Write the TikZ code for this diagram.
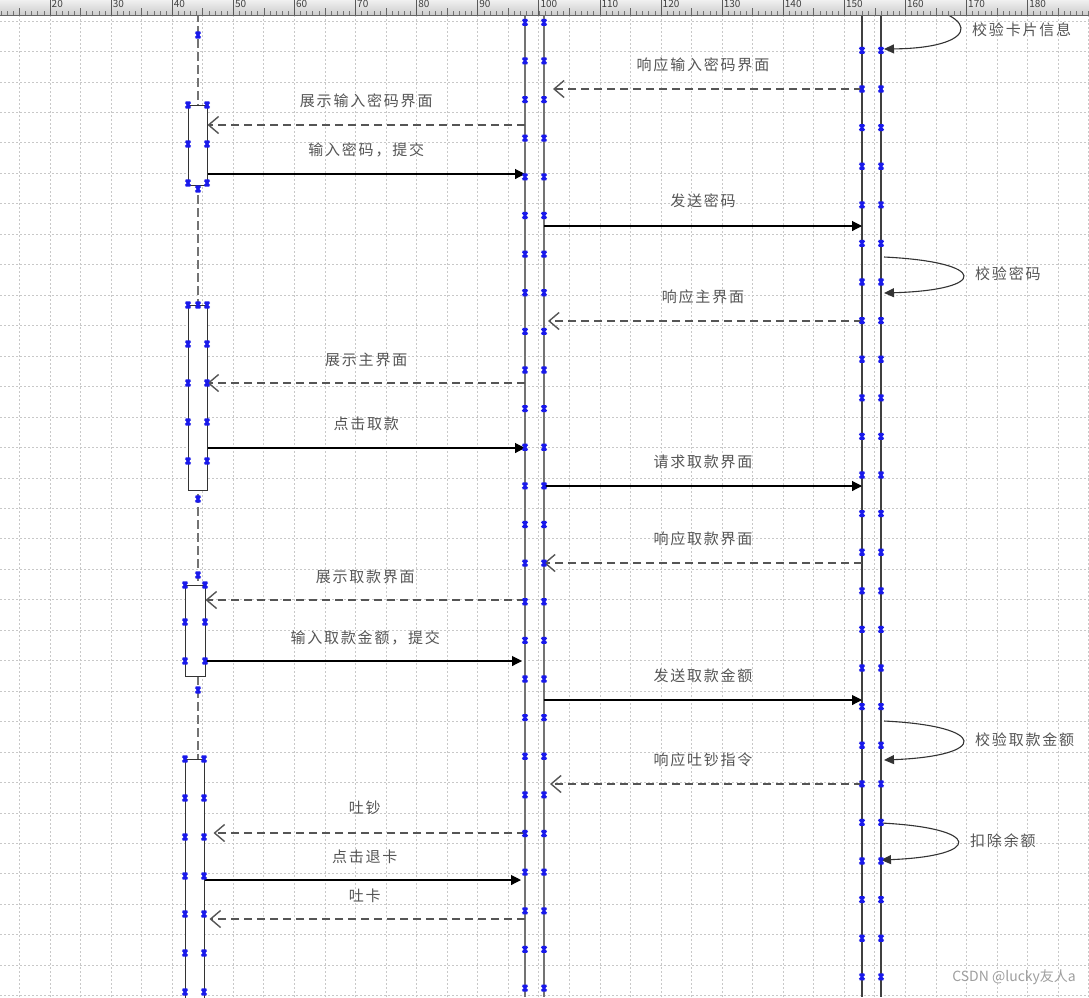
\documentclass[tikz,border=0pt]{standalone}
\usepackage{fontspec}
\setmainfont{Noto Sans CJK SC}
\newfontfamily\cjk[LetterSpace=12]{Noto Sans CJK SC}
\usepackage{tikz}
\usetikzlibrary{arrows.meta,calc}
\definecolor{gridgray}{RGB}{200,200,200}
\definecolor{txtgray}{RGB}{85,85,85}
\definecolor{linegray}{RGB}{115,115,115}
\definecolor{handleblue}{RGB}{25,25,235}

\begin{document}
\begin{tikzpicture}[x=1pt,y=-1pt]
  \tikzstyle{lbl}=[font=\cjk\fontsize{15}{18}\selectfont,text=txtgray,inner sep=0pt]
  \tikzstyle{call}=[draw=black,line width=1.1pt,-{Triangle[length=10pt,width=10pt]}]
  \tikzstyle{reply}=[draw=txtgray,line width=1.4pt,dash pattern=on 8pt off 5pt,-{Straight Barb[length=10pt,width=17pt]}]
  \tikzstyle{selfmsg}=[draw=black!80,line width=1.1pt,-{Triangle[length=10pt,width=9pt]}]
  \tikzstyle{actbox}=[draw=black!80,line width=1pt,fill=white,minimum width=19pt,inner sep=0pt,anchor=north]
  \tikzstyle{lifeline}=[draw=linegray,line width=1.4pt]
  \tikzstyle{gridline}=[draw=gridgray,line width=0.8pt,dash pattern=on 2pt off 2pt]
  \tikzstyle{handle}=[draw=handleblue,line width=1.9pt]
  \tikzset{hdl/.pic={\draw[handle] (-2.4,-2.6) -- (2.4,2.6) (-2.4,2.6) -- (2.4,-2.6) (-2.4,-2.6) -- (2.4,-2.6) (-2.4,2.6) -- (2.4,2.6);}}

  \useasboundingbox (0,0) rectangle (1089,997);
  \fill[white] (0,0) rectangle (1089,997);

  % grid
  \foreach \k in {0,...,35} \draw[gridline] (19.45+30.55*\k,15) -- (19.45+30.55*\k,997);
  \foreach \k in {0,...,32} \draw[gridline] (0,21+30.46*\k) -- (1089,21+30.46*\k);

  % lifelines
  \coordinate (userL) at (198,0);
  \coordinate (atmL) at (525,0);
  \coordinate (atmR) at (544,0);
  \coordinate (bankL) at (862,0);
  \coordinate (bankR) at (881,0);
  \coordinate (loopR) at (884,0);
  \draw[lifeline,dash pattern=on 9pt off 4pt] (userL) -- (userL |- 0,997);
  \draw[lifeline] (atmL) -- (atmL |- 0,997);
  \draw[lifeline] (atmR) -- (atmR |- 0,997);
  \draw[lifeline,draw=black!75] (bankL) -- (bankL |- 0,997);
  \draw[lifeline,draw=black!75] (bankR) -- (bankR |- 0,997);

  % activation boxes
  \node[actbox,minimum height=80pt] (act1) at (197.5,105) {};
  \node[actbox,minimum height=185pt] (act2) at (197.5,305) {};
  \node[actbox,minimum width=20pt,minimum height=91pt] (act3) at (195,585) {};
  \node[actbox,minimum height=250pt] (act4) at (194.5,759) {};

  % messages
  \draw[selfmsg] (loopR) .. controls (985,10) and (985,48) .. (loopR |- 0,49);
  \draw[reply,shorten >=9pt] (bankL |- 0,89) -- node[lbl,yshift=24pt]{响应输入密码界面} (atmR |- 0,89);
  \draw[reply] (atmL |- 0,125) -- node[lbl,yshift=24pt]{展示输入密码界面} (act1.east |- 0,125);
  \draw[call] (act1.east |- 0,174) -- node[lbl,yshift=24pt]{输入密码，提交} (atmL |- 0,174);
  \draw[call] (atmR |- 0,226) -- node[lbl,yshift=25pt]{发送密码} (bankL |- 0,226);
  \draw[selfmsg] (loopR |- 0,257) .. controls (989,262) and (989,290) .. (loopR |- 0,293);
  \draw[reply,shorten >=4pt] (bankL |- 0,321) -- node[lbl,yshift=24pt]{响应主界面} (atmR |- 0,321);
  \draw[reply] (atmL |- 0,383) -- node[lbl,yshift=23pt]{展示主界面} (act2.east |- 0,383);
  \draw[call] (act2.east |- 0,448) -- node[lbl,yshift=24pt]{点击取款} (atmL |- 0,448);
  \draw[call] (atmR |- 0,486) -- node[lbl,yshift=24pt]{请求取款界面} (bankL |- 0,486);
  \draw[reply] (bankL |- 0,563) -- node[lbl,yshift=24pt]{响应取款界面} (atmR |- 0,563);
  \draw[reply] (atmL |- 0,600) -- node[lbl,yshift=23pt]{展示取款界面} (act3.east |- 0,600);
  \draw[call,shorten >=3pt] (act3.east |- 0,661) -- node[lbl,yshift=23pt]{输入取款金额，提交} (atmL |- 0,661);
  \draw[call] (atmR |- 0,700) -- node[lbl,yshift=24pt]{发送取款金额} (bankL |- 0,700);
  \draw[selfmsg] (loopR |- 0,721) .. controls (989,726) and (989,756) .. (loopR |- 0,760);
  \draw[reply,shorten >=6pt] (bankL |- 0,784) -- node[lbl,yshift=24pt]{响应吐钞指令} (atmR |- 0,784);
  \draw[reply,shorten >=9pt] (atmL |- 0,833) -- node[lbl,yshift=25pt]{吐钞} (act4.east |- 0,833);
  \draw[selfmsg] (bankR |- 0,823) .. controls (983,828) and (983,856) .. (bankR |- 0,860);
  \draw[call,shorten >=4pt] (act4.east |- 0,880) -- node[lbl,yshift=23pt]{点击退卡} (atmL |- 0,880);
  \draw[reply,shorten >=5pt] (atmL |- 0,919) -- node[lbl,yshift=23pt]{吐卡} (act4.east |- 0,919);

  % self message labels
  \node[lbl,anchor=west] (chkcard) at (972,30) {校验卡片信息};
  \node[lbl,anchor=west] (chkpwd) at (975,274) {校验密码};
  \node[lbl,anchor=west] (chkamt) at (975,740) {校验取款金额};
  \node[lbl,anchor=west] (deduct) at (970,841) {扣除余额};

  % selection handles
  \foreach \k in {0,...,25} {
    \pic at (525,22.3+38.63*\k) {hdl};
    \pic at (544,22.3+38.63*\k) {hdl};
  }
  \foreach \k in {0,...,24} {
    \pic at (862,50.4+38.6*\k) {hdl};
    \pic at (881,50.4+38.6*\k) {hdl};
  }
  \foreach \p in {(198,35),(188,105),(207,105),(188,144),(207,144),(188,183),(207,183),(198,189),
                  (188,305),(198,305),(207,305),(198,499),(198,575),(185,585),(205,585),
                  (185,622),(205,622),(185,661),(205,661),(198,690)}
    \pic at \p {hdl};
  \foreach \y in {344,383,422,461} {
    \pic at (188,\y) {hdl};
    \pic at (207,\y) {hdl};
  }
  \foreach \y in {759,798,837,876,914,953,992} {
    \pic at (185,\y) {hdl};
    \pic at (204,\y) {hdl};
  }

  % ruler
  \shade[top color=gray!12,bottom color=gray!40] (0,0) rectangle (1089,15);
  \foreach \v in {12,...,190} \draw[black!55,line width=0.6pt] ({50+(\v-20)*6.11},15) -- ({50+(\v-20)*6.11},11);
  \foreach \v in {15,25,...,185} \draw[black!60,line width=0.7pt] ({50+(\v-20)*6.11},15) -- ({50+(\v-20)*6.11},8);
  \foreach \v in {20,30,...,180} {
    \draw[black!65,line width=0.7pt] ({50+(\v-20)*6.11},15) -- ({50+(\v-20)*6.11},0);
    \node[anchor=south west,inner sep=1.5pt,font=\fontsize{10}{10}\selectfont,text=black!75] at ({50+(\v-20)*6.11},9) {\v};
  }
  \draw[black!60,line width=0.8pt] (0,15) -- (1089,15);

  \node[anchor=east,font=\fontsize{14}{16}\selectfont,text=gray!75,inner sep=0pt] (wm) at (1076,977) {CSDN @lucky友人a};
\end{tikzpicture}
\end{document}
